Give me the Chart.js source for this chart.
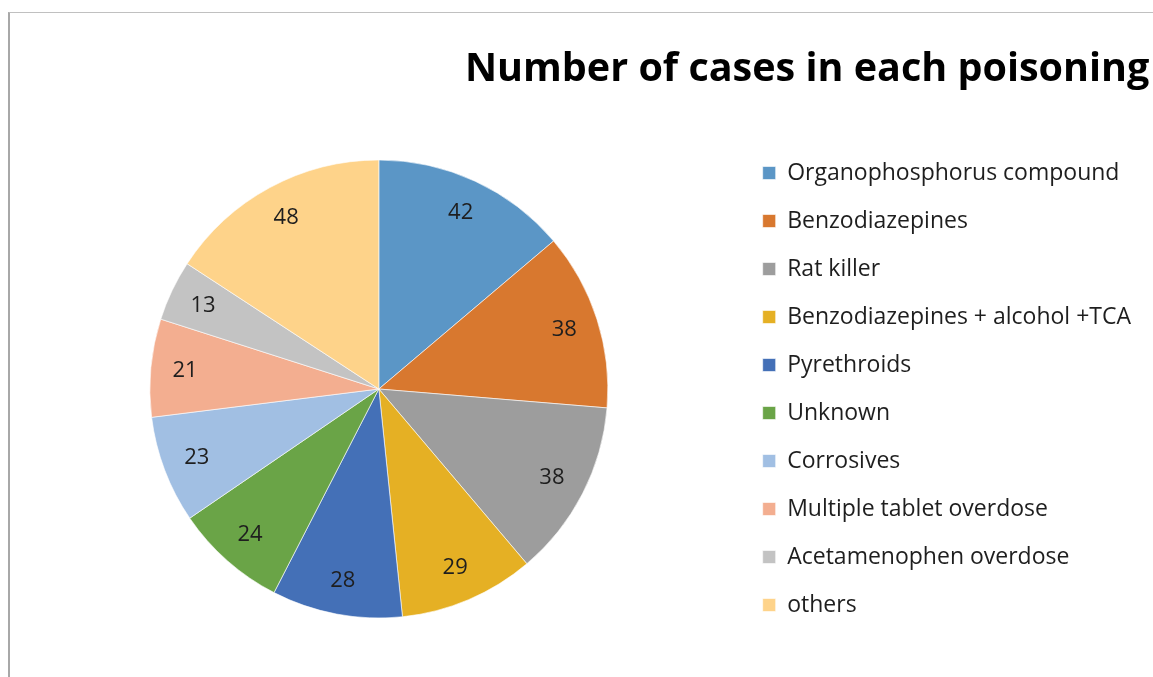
<!DOCTYPE html>
<html>
<head>
<meta charset="utf-8">
<script src="https://cdn.jsdelivr.net/npm/chart.js@4"></script>
<style>
    html, body { margin: 0; padding: 0; background: #fff; overflow: hidden; }
    #wrap { position: relative; width: 1153px; height: 677px; }
    #frame {
        position: absolute; left: 8px; top: 12px; right: -5px; bottom: -5px;
        border-top: 1px solid #c0c0c0; border-left: 2px solid #a8a8a8;
        pointer-events: none;
    }
    canvas { position: absolute; left: 0; top: 0; }
</style>
</head>
<body>
<div id="wrap">
    <canvas id="poisonChart" width="1153" height="677"></canvas>
    <div id="frame"></div>
</div>
<script>
var chartTitle = 'Number of cases in each poisoning';

var categories = [
    'Organophosphorus compound',
    'Benzodiazepines',
    'Rat killer',
    'Benzodiazepines + alcohol +TCA',
    'Pyrethroids',
    'Unknown',
    'Corrosives',
    'Multiple tablet overdose',
    'Acetamenophen overdose',
    'others'
];

var cases = [42, 38, 38, 29, 28, 24, 23, 21, 13, 48];

var sliceColors = [
    '#5b96c6', '#d8782f', '#9d9d9d', '#e5b024', '#4470b7',
    '#6aa447', '#a1bfe3', '#f3ae90', '#c3c3c3', '#fed38a'
];

// title drawn by hand, it runs off the right edge like in the original
var titlePlugin = {
    id: 'bigTitle',
    afterDraw: function (chart) {
        var ctx = chart.ctx;
        ctx.save();
        ctx.font = 'bold 39.5px "Open Sans"';
        ctx.fillStyle = '#000';
        ctx.textBaseline = 'alphabetic';
        ctx.textAlign = 'left';
        ctx.fillText(chartTitle, 465, 81);
        ctx.restore();
    }
};

// numbers inside the slices
var valueLabels = {
    id: 'valueLabels',
    afterDatasetsDraw: function (chart) {
        var ctx = chart.ctx;
        var meta = chart.getDatasetMeta(0);
        ctx.save();
        ctx.font = '22px "Open Sans"';
        ctx.fillStyle = '#1e1e1e';
        ctx.textAlign = 'center';
        ctx.textBaseline = 'middle';
        meta.data.forEach(function (arc, i) {
            var p = arc.getProps(['x', 'y', 'startAngle', 'endAngle', 'outerRadius'], true);
            var mid = (p.startAngle + p.endAngle) / 2;
            var r = p.outerRadius * 0.85;
            ctx.fillText(chart.data.datasets[0].data[i], p.x + Math.cos(mid) * r, p.y + Math.sin(mid) * r);
        });
        ctx.restore();
    }
};

var ctx = document.getElementById('poisonChart');
var poisonChart = new Chart(ctx, {
    type: 'pie',
    data: {
        labels: categories,
        datasets: [{
            data: cases,
            backgroundColor: sliceColors,
            borderColor: 'rgba(255,255,255,0.6)',
            borderWidth: 1
        }]
    },
    options: {
        responsive: false,
        animation: false,
        radius: 229,
        layout: {
            padding: { left: 20, top: 111, bottom: 10, right: 12 }
        },
        plugins: {
            title: { display: false },
            tooltip: { enabled: false },
            legend: {
                position: 'right',
                labels: {
                    boxWidth: 13,
                    boxHeight: 13,
                    padding: 25,
                    color: '#1e1e1e',
                    font: { family: '"Open Sans"', size: 23 }
                }
            }
        }
    },
    plugins: [titlePlugin, valueLabels]
});
</script>
</body>
</html>
